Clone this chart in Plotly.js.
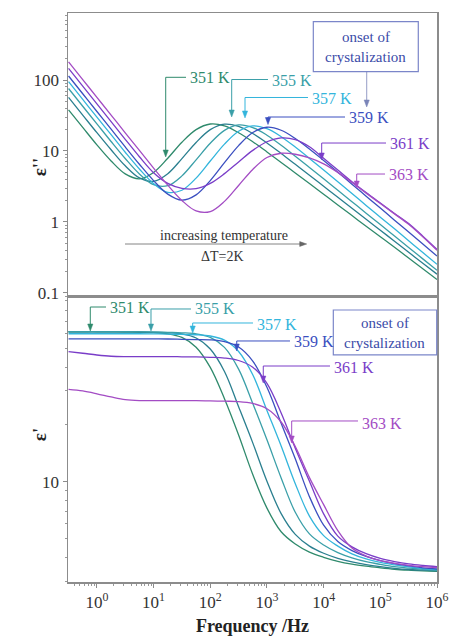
<!DOCTYPE html>
<html>
<head>
<meta charset="utf-8">
<script src="https://cdn.plot.ly/plotly-3.0.1.min.js"></script>
<style>
  html, body { margin: 0; padding: 0; background: #fff; }
  #chart { width: 449px; height: 637px; }
</style>
</head>
<body>
<div id="chart"></div>
<script>
// Frequency grid (Hz), quarter-decade steps from 10^-0.5 to 10^6
const freq = [0.316, 0.562, 1, 1.78, 3.16, 5.62, 10, 17.8, 31.6, 56.2, 100, 178, 316, 562,
  1000, 1780, 3160, 5620, 1e4, 1.78e4, 3.16e4, 5.62e4, 1e5, 1.78e5, 3.16e5, 5.62e5, 1e6];

const temps = ['351 K', '353 K', '355 K', '357 K', '359 K', '361 K', '363 K'];

// Dielectric loss ε''
const loss351 = [38.0, 21.5, 12.2, 7.24, 4.76, 4.06, 4.98, 7.9, 13.3, 20.0, 24.0, 22.6, 18.1, 13.5, 9.7, 6.9, 4.9, 3.48, 2.46, 1.74, 1.23, 0.87, 0.62, 0.44, 0.31, 0.22, 0.155];
const loss353 = [56.9, 32.1, 18.1, 10.4, 6.18, 4.17, 3.73, 4.79, 7.81, 13.2, 20.0, 23.9, 22.2, 17.6, 12.96, 9.23, 6.49, 4.56, 3.19, 2.23, 1.56, 1.09, 0.765, 0.536, 0.375, 0.262, 0.184];
const loss355 = [75.9, 42.7, 24.1, 13.6, 7.83, 4.75, 3.35, 3.24, 4.46, 7.51, 12.85, 19.5, 23.3, 21.4, 16.7, 12.07, 8.46, 5.87, 4.06, 2.80, 1.93, 1.33, 0.92, 0.635, 0.437, 0.302, 0.209];
const loss357 = [94.9, 53.3, 30.0, 17.0, 9.6, 5.57, 3.47, 2.62, 2.80, 4.15, 7.22, 12.5, 19.0, 22.6, 20.6, 15.9, 11.35, 7.86, 5.39, 3.69, 2.52, 1.71, 1.17, 0.80, 0.544, 0.371, 0.253];
const loss359 = [113.8, 64.0, 36.0, 20.3, 11.4, 6.5, 3.83, 2.47, 2.03, 2.41, 3.83, 6.84, 11.9, 18.2, 21.6, 19.6, 15.0, 10.67, 7.35, 5.01, 3.41, 2.31, 1.57, 1.06, 0.72, 0.488, 0.331];
const loss361 = [145.5, 81.8, 46.0, 25.9, 14.6, 8.3, 4.95, 3.5, 2.98, 2.95, 3.5, 4.8, 7.0, 10.2, 13.5, 15.3, 14.5, 11.5, 7.9, 5.4, 3.7, 2.6, 1.85, 1.32, 0.95, 0.63, 0.41];
const loss363 = [180.2, 101.3, 57.0, 32.1, 18.0, 10.2, 5.75, 3.3, 2.01, 1.43, 1.40, 1.95, 3.27, 5.5, 8.1, 9.3, 9.0, 8.0, 6.6, 5.0, 3.6, 2.55, 1.82, 1.3, 0.93, 0.62, 0.40];

// Dielectric permittivity ε'
const perm351 = [61.5, 61.5, 61.5, 61.4, 61.3, 61.1, 60.8, 60.0, 57.4, 51.0, 39.9, 27.3, 17.6, 10.9, 7.26, 5.45, 4.70, 4.26, 4.0, 3.81, 3.68, 3.59, 3.52, 3.46, 3.42, 3.39, 3.37];
const perm353 = [61.5, 61.5, 61.5, 61.5, 61.4, 61.3, 61.0, 60.7, 59.9, 57.0, 49.9, 38.0, 24.8, 16.0, 10.05, 6.79, 5.28, 4.58, 4.2, 3.95, 3.78, 3.66, 3.57, 3.5, 3.45, 3.42, 3.39];
const perm355 = [61.5, 61.5, 61.5, 61.5, 61.5, 61.4, 61.3, 61.0, 60.7, 60.0, 57.4, 50.9, 39.1, 25.8, 16.6, 10.46, 6.9, 5.31, 4.64, 4.23, 3.97, 3.79, 3.67, 3.57, 3.51, 3.46, 3.42];
const perm357 = [60.0, 60.0, 60.0, 60.0, 60.0, 60.0, 59.9, 59.8, 59.5, 59.3, 58.4, 55.5, 48.4, 36.5, 23.7, 15.4, 9.76, 6.59, 5.2, 4.58, 4.17, 3.92, 3.76, 3.65, 3.56, 3.49, 3.45];
const perm359 = [56.4, 56.4, 56.4, 56.4, 56.4, 56.4, 56.4, 56.3, 56.1, 55.9, 55.7, 54.5, 51.1, 43.1, 31.4, 20.3, 13.2, 8.34, 5.9, 4.84, 4.34, 4.04, 3.84, 3.7, 3.6, 3.52, 3.47];
const perm361 = [48.3, 47.4, 46.4, 45.7, 45.5, 45.5, 45.5, 45.5, 45.4, 45.3, 45.1, 44.7, 43.4, 40.0, 32.9, 23.0, 15.0, 10.05, 6.77, 5.17, 4.54, 4.18, 3.95, 3.8, 3.69, 3.62, 3.57];
const perm363 = [30.6, 30.0, 29.0, 27.9, 27.0, 26.7, 26.7, 26.7, 26.7, 26.7, 26.6, 26.5, 26.4, 25.8, 24.2, 20.6, 15.3, 10.5, 7.57, 5.52, 4.47, 4.06, 3.84, 3.72, 3.63, 3.57, 3.53];

const xTickVals = [1, 10, 100, 1000, 1e4, 1e5, 1e6];
const xTickText = ['10<sup>0</sup>', '10<sup>1</sup>', '10<sup>2</sup>', '10<sup>3</sup>', '10<sup>4</sup>', '10<sup>5</sup>', '10<sup>6</sup>'];
const lossTickVals = [0.1, 1, 10, 100];
const lossTickText = ['0.1', '1', '10', '100'];
const permTickVals = [10];
const permTickText = ['10'];

const colors = ['#2f8a6c', '#2a7f8f', '#3a9fa8', '#33b5dc', '#3b4fc0', '#7a3dc8', '#a34cc4'];
const lossSets = [loss351, loss353, loss355, loss357, loss359, loss361, loss363];
const permSets = [perm351, perm353, perm355, perm357, perm359, perm361, perm363];

const traces = [];
lossSets.forEach((ys, i) => traces.push({
  x: freq, y: ys, xaxis: 'x2', yaxis: 'y2', type: 'scatter', mode: 'lines', name: temps[i],
  line: { color: colors[i], width: 1.3, shape: 'spline', smoothing: 1 }, hoverinfo: 'skip'
}));
permSets.forEach((ys, i) => traces.push({
  x: freq, y: ys, xaxis: 'x', yaxis: 'y', type: 'scatter', mode: 'lines', name: temps[i],
  line: { color: colors[i], width: 1.3, shape: 'spline', smoothing: 1 }, hoverinfo: 'skip'
}));

function minorLog(lo, hi) {
  const v = [];
  for (let e = lo; e <= hi; e++) for (let m = 2; m <= 9; m++) v.push(m * Math.pow(10, e));
  return v;
}

const serif = 'Liberation Serif, Times New Roman, serif';
const axisCommon = {
  type: 'log', showgrid: false, zeroline: false, showline: true, mirror: true,
  linecolor: '#8c8c8c', linewidth: 1.5, tickcolor: '#8c8c8c',
  tickfont: { family: serif, size: 17, color: '#333' }, tickmode: 'array'
};

// Plot area size in pixels, used to size arrowheads drawn in paper units
const PLOT_W = 369, PLOT_H = 569;
const annotations = [];
const shapes = [];

function seg(x0, y0, x1, y1, color, width) {
  shapes.push({ type: 'line', xref: 'paper', yref: 'paper', x0: x0, y0: y0, x1: x1, y1: y1,
    line: { color: color, width: width || 1 } });
}
function headDown(x, y, color) {
  const w = 2.6 / PLOT_W, h = 7 / PLOT_H;
  shapes.push({ type: 'path', xref: 'paper', yref: 'paper',
    path: `M ${x - w} ${y + h} L ${x + w} ${y + h} L ${x} ${y} Z`,
    fillcolor: color, line: { color: color, width: 0.5 } });
}
function headRight(x, y, color) {
  const w = 2.4 / PLOT_H, h = 7 / PLOT_W;
  shapes.push({ type: 'path', xref: 'paper', yref: 'paper',
    path: `M ${x - h} ${y + w} L ${x - h} ${y - w} L ${x} ${y} Z`,
    fillcolor: color, line: { color: color, width: 0.5 } });
}

// Temperature labels: text position, elbow leader and arrow tip (paper coordinates)
const labels = [
  { t: '351 K', c: colors[0], tx: 0.3252, ty: 0.8858, lx0: 0.2648, lx1: 0.3198, ly: 0.887, yt: 0.7469 },
  { t: '355 K', c: colors[2], tx: 0.5474, ty: 0.8822, lx0: 0.4436, lx1: 0.5420, ly: 0.8831, yt: 0.8172 },
  { t: '357 K', c: colors[3], tx: 0.6558, ty: 0.8489, lx0: 0.4797, lx1: 0.6504, ly: 0.8515, yt: 0.8155 },
  { t: '359 K', c: colors[4], tx: 0.7561, ty: 0.8155, lx0: 0.5420, lx1: 0.7507, ly: 0.8172, yt: 0.8040 },
  { t: '361 K', c: colors[5], tx: 0.8672, ty: 0.7715, lx0: 0.6875, lx1: 0.8618, ly: 0.7715, yt: 0.7417 },
  { t: '363 K', c: colors[6], tx: 0.8645, ty: 0.7153, lx0: 0.7824, lx1: 0.8591, ly: 0.7170, yt: 0.6924 },
  { t: '351 K', c: colors[0], tx: 0.1084, ty: 0.4833, lx0: 0.0604, lx1: 0.1030, ly: 0.4833, yt: 0.4411 },
  { t: '355 K', c: colors[2], tx: 0.3388, ty: 0.4798, lx0: 0.2249, lx1: 0.3333, ly: 0.4798, yt: 0.4411 },
  { t: '357 K', c: colors[3], tx: 0.5068, ty: 0.4517, lx0: 0.3379, lx1: 0.5014, ly: 0.4552, yt: 0.4376 },
  { t: '359 K', c: colors[4], tx: 0.6070, ty: 0.4223, lx0: 0.4573, lx1: 0.6016, ly: 0.4236, yt: 0.4060 },
  { t: '361 K', c: colors[5], tx: 0.7154, ty: 0.3761, lx0: 0.5292, lx1: 0.7100, ly: 0.3796, yt: 0.3497 },
  { t: '363 K', c: colors[6], tx: 0.7913, ty: 0.2794, lx0: 0.6062, lx1: 0.7859, ly: 0.2830, yt: 0.2443 }
];

labels.forEach(l => {
  annotations.push({ xref: 'paper', yref: 'paper', x: l.tx, y: l.ty, xanchor: 'left', yanchor: 'middle',
    text: l.t, showarrow: false, font: { family: serif, size: 16, color: l.c } });
  seg(l.lx0, l.ly, l.lx1, l.ly, l.c, 1);
  seg(l.lx0, l.ly, l.lx0, l.yt + 6 / PLOT_H, l.c, 1);
  headDown(l.lx0, l.yt, l.c);
});

// "onset of crystalization" boxes
const boxColor = '#7b86c9';
const boxText = '#3b4ba8';
shapes.push({ type: 'rect', xref: 'paper', yref: 'paper', x0: 0.6648, x1: 0.9493, y0: 0.8968, y1: 0.9847,
  line: { color: boxColor, width: 1.2 }, fillcolor: 'rgba(0,0,0,0)' });
shapes.push({ type: 'rect', xref: 'paper', yref: 'paper', x0: 0.719, x1: 0.9992, y0: 0.399, y1: 0.478,
  line: { color: boxColor, width: 1.2 }, fillcolor: 'rgba(0,0,0,0)' });
[[0.807, 0.9583, 'onset of'], [0.807, 0.9232, 'crystalization'],
 [0.859, 0.4557, 'onset of'], [0.859, 0.4195, 'crystalization']].forEach(([x, y, t]) => {
  annotations.push({ xref: 'paper', yref: 'paper', x: x, y: y, text: t, showarrow: false,
    xanchor: 'center', yanchor: 'middle', font: { family: serif, size: 15, color: boxText } });
});
seg(0.8095, 0.8968, 0.8095, 0.8348 + 5 / PLOT_H, '#7a84b8', 0.8);
headDown(0.8095, 0.8348, '#7a84b8');

// Temperature direction note
annotations.push({ xref: 'paper', yref: 'paper', x: 0.4228, y: 0.6081, text: 'increasing temperature',
  showarrow: false, font: { family: serif, size: 14, color: '#333' } });
annotations.push({ xref: 'paper', yref: 'paper', x: 0.42, y: 0.5712, text: 'ΔT=2K',
  showarrow: false, font: { family: serif, size: 14, color: '#333' } });
seg(0.1545, 0.594, 0.6469 - 5 / PLOT_W, 0.594, '#666', 0.8);
headRight(0.6469, 0.594, '#666');

// Y-axis titles
annotations.push({ xref: 'paper', yref: 'paper', x: -0.111, y: 0.75, text: "<b>ε''</b>", textangle: -90,
  showarrow: false, font: { family: serif, size: 19, color: '#222' } });
annotations.push({ xref: 'paper', yref: 'paper', x: -0.111, y: 0.244, text: "<b>ε'</b>", textangle: -90,
  showarrow: false, font: { family: serif, size: 19, color: '#222' } });

const layout = {
  width: 449, height: 637,
  margin: { l: 68, r: 12, t: 13, b: 55 },
  paper_bgcolor: '#fff', plot_bgcolor: '#fff',
  showlegend: false,
  font: { family: serif, size: 17, color: '#333' },
  xaxis: Object.assign({}, axisCommon, {
    range: [-0.51, 6.0], anchor: 'y', tickvals: xTickVals, ticktext: xTickText,
    ticks: 'outside', ticklen: 4,
    minor: { tickvals: minorLog(-1, 5), ticks: 'outside', ticklen: 2, tickcolor: '#999' },
    title: { text: '<b>Frequency /Hz</b>', font: { family: serif, size: 18, color: '#222' }, standoff: 8 }
  }),
  xaxis2: Object.assign({}, axisCommon, {
    range: [-0.51, 6.0], anchor: 'y2', matches: 'x', showticklabels: false, ticks: ''
  }),
  yaxis: Object.assign({}, axisCommon, {
    range: [0.472, 1.972], domain: [0, 0.501], anchor: 'x', tickvals: permTickVals, ticktext: permTickText,
    ticks: 'outside', ticklen: 4,
    minor: { tickvals: [3, 4, 5, 6, 7, 8, 9, 20, 30, 40, 50, 60, 70, 80, 90], ticks: 'outside', ticklen: 2, tickcolor: '#999' }
  }),
  yaxis2: Object.assign({}, axisCommon, {
    range: [-1.056, 2.944], domain: [0.501, 1], anchor: 'x2', tickvals: lossTickVals, ticktext: lossTickText,
    ticks: 'outside', ticklen: 4,
    minor: { tickvals: minorLog(-2, 2), ticks: 'outside', ticklen: 2, tickcolor: '#999' }
  }),
  annotations: annotations,
  shapes: shapes
};

Plotly.newPlot('chart', traces, layout, { staticPlot: true, displayModeBar: false });
</script>
</body>
</html>
